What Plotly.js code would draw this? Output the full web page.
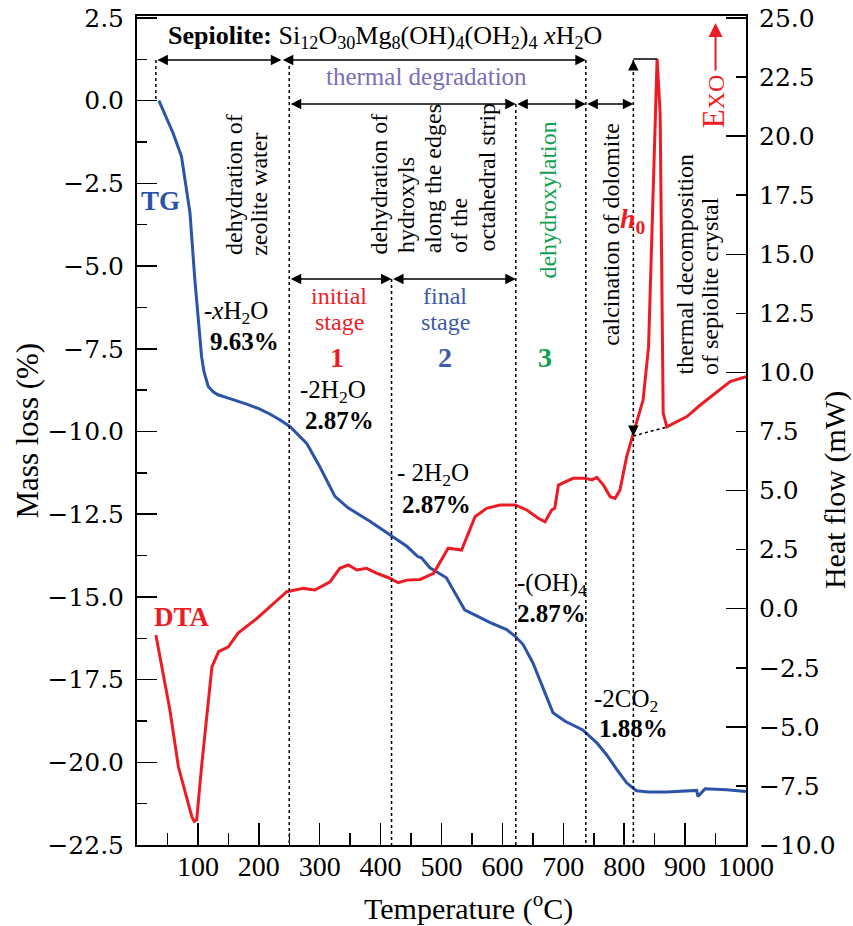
<!DOCTYPE html>
<html><head><meta charset="utf-8">
<script src="https://cdn.plot.ly/plotly-3.0.1.min.js"></script>
<style>html,body{margin:0;padding:0;background:#fff}</style>
</head><body><div id="chart" style="width:853px;height:926px"></div>
<script>
// ---- data ----
const tgTemp = [36,59,73,84,87,95,100,106,110,117,125,133,150,169,180,200,218,235,251,279,300,325,346,383,415,443,461,467,481,508,538,543,580,607,621,634,650,667,683,703,732,755,771,788,804,820,840,870,919,921,933,968,1000];
const tgMass = [0,-0.97,-1.68,-3.00,-3.39,-5.42,-6.41,-7.73,-8.19,-8.64,-8.80,-8.89,-8.99,-9.09,-9.17,-9.31,-9.47,-9.65,-9.85,-10.37,-11.06,-11.96,-12.30,-12.72,-13.12,-13.47,-13.78,-13.82,-14.12,-14.42,-15.39,-15.44,-15.78,-15.99,-16.19,-16.44,-16.99,-17.74,-18.50,-18.76,-19.02,-19.41,-19.77,-20.22,-20.62,-20.86,-20.90,-20.90,-20.85,-21.03,-20.80,-20.83,-20.88];
const dtaTemp = [31,41,54,68,79,90,94,98,106,117,123,134,150,166,197,218,246,273,292,317,333,347,361,377,394,415,429,443,465,487,511,533,555,574,596,621,640,659,670,681,686,692,716,736,747,755,766,777,785,793,804,815,831,840,845,851,854,859,862,864,870,903,925,952,974,1000];
const dtaHeat = [-1.11,-2.46,-4.29,-6.69,-7.80,-8.80,-9.00,-8.94,-6.69,-3.86,-2.46,-1.82,-1.61,-1.03,-0.41,0.08,0.72,0.86,0.79,1.14,1.71,1.85,1.64,1.71,1.50,1.29,1.10,1.21,1.24,1.50,2.56,2.48,3.89,4.25,4.39,4.39,4.18,3.83,3.68,4.18,4.25,5.23,5.52,5.52,5.45,5.56,5.23,4.74,4.67,5.02,6.43,7.42,8.83,11.09,15.32,20.96,23.27,20.98,12.51,8.28,7.70,8.13,8.62,9.18,9.61,9.82];
const xTickVals = [100,200,300,400,500,600,700,800,900,1000];
const xMinorVals = [50,150,250,350,450,550,650,750,850,950];
const leftTickVals = [-22.5,-20,-17.5,-15,-12.5,-10,-7.5,-5,-2.5,0,2.5];
const leftMinorVals = [-21.25,-18.75,-16.25,-13.75,-11.25,-8.75,-6.25,-3.75,-1.25,1.25];
const rightTickVals = [-10,-7.5,-5,-2.5,0,2.5,5,7.5,10,12.5,15,17.5,20,22.5,25];
const rightLongVals = [-10,-5,0,5,10,15,20,25];
// stage boundaries (°C): TG start, 250, 418, 622, 737, 815 (h0)
const boundaries = [31,250,418,622,737,815];

const BLUE='#2b53a7', RED='#ed1c24', PURPLE='#7a6eb8', GREEN='#10a050', BLUE2='#3c5aa8';
const FONT='Liberation Serif, Times New Roman, serif';
const YFONT='DejaVu Serif, Liberation Serif, serif';

const traces = [
  {x:tgTemp, y:tgMass, type:'scatter', mode:'lines', name:'TG', line:{color:BLUE,width:3}, yaxis:'y', hoverinfo:'x+y'},
  {x:dtaTemp, y:dtaHeat, type:'scatter', mode:'lines', name:'DTA', line:{color:RED,width:3}, yaxis:'y2', hoverinfo:'x+y'}
];

const row1 = 1.23, row2 = -0.10, row3 = -5.39, yBottom = -22.5;
const ann = [];
function arrow2(x0,x1,y){
  ann.push({x:x1,y:y,ax:x0,ay:y,xref:'x',yref:'y',axref:'x',ayref:'y',text:'',showarrow:true,
    arrowhead:2,startarrowhead:2,arrowside:'end+start',arrowsize:1.4,startarrowsize:1.4,arrowwidth:1.5,
    arrowcolor:'black',standoff:0,startstandoff:0});
}
function head(x,y,ay,color,w){
  ann.push({x:x,y:y,ax:x,ay:ay,xref:'x',yref:'y',axref:'x',ayref:'y',text:'',showarrow:true,
    arrowhead:2,arrowsize:1.4,arrowwidth:w||1.5,arrowcolor:color||'black',standoff:0});
}
function txt(t,x,y,o){
  o=o||{};
  ann.push({x:x,y:y,xref:'x',yref:'y',text:t,showarrow:false,xanchor:'center',yanchor:'middle',
    font:{family:FONT,size:o.size||25,color:o.color||'black'}});
}
function vtxt(t,x,yb,o){
  o=o||{};
  ann.push({x:x,y:yb,xref:'x',yref:'y',text:t,showarrow:false,textangle:-90,xanchor:'center',yanchor:'bottom',
    font:{family:FONT,size:o.size||24,color:o.color||'black'}});
}

// arrows
arrow2(boundaries[0],237,row1);
arrow2(237,boundaries[4],row1);
arrow2(boundaries[1],boundaries[3],row2);
arrow2(boundaries[3],boundaries[4],row2);
arrow2(boundaries[4],boundaries[5],row2);
arrow2(boundaries[1],boundaries[2],row3);
arrow2(boundaries[2],boundaries[3],row3);
// h0 arrow heads
head(boundaries[5],row1,row1-0.25);
head(boundaries[5],-10.14,-9.89);
// Exo arrow
head(950,2.35,0.87,RED,2);

// texts
txt('<b>Sepiolite:</b> Si<sub>12</sub>O<sub>30</sub>Mg<sub>8</sub>(OH)<sub>4</sub>(OH<sub>2</sub>)<sub>4</sub> <i>x</i>H<sub>2</sub>O',407,1.93,{size:26});
txt('thermal degradation',475,0.72,{color:PURPLE});
txt('<b>TG</b>',39,-3.03,{size:27,color:BLUE});
txt('<b>DTA</b>',74,-15.61,{size:27,color:RED});
txt('-<i>x</i>H<sub>2</sub>O',163,-6.39);
txt('<b>9.63%</b>',176,-7.29);
txt('initial',332,-5.90,{size:24,color:RED});
txt('stage',332,-6.69,{size:24,color:RED});
txt('<b>1</b>',328,-7.75,{size:28,color:RED});
txt('-2H<sub>2</sub>O',322,-8.78);
txt('<b>2.87%</b>',333,-9.68);
txt('final',506,-5.90,{size:24,color:BLUE2});
txt('stage',507,-6.69,{size:24,color:BLUE2});
txt('<b>2</b>',506,-7.75,{size:28,color:BLUE2});
txt('<b>3</b>',670,-7.75,{size:28,color:GREEN});
txt('- 2H<sub>2</sub>O',486,-11.29);
txt('<b>2.87%</b>',491,-12.22);
txt('-(OH)<sub>4</sub>',681,-14.64);
txt('<b>2.87%</b>',681,-15.49);
txt('-2CO<sub>2</sub>',803,-18.12);
txt('<b>1.88%</b>',816,-18.97);
txt('<b><i>h</i><sub>0</sub></b>',814,-3.61,{size:28,color:RED});

vtxt('dehydration of',158,-4.73);
vtxt('zeolite water',199,-4.76);
vtxt('dehydration of',397,-4.70);
vtxt('hydroxyls',442,-4.66);
vtxt('along the edges',486,-4.66);
vtxt('of the',530,-4.66);
vtxt('octahedral strip',575,-4.63);
vtxt('dehydroxylation',675,-5.45,{color:GREEN});
vtxt('calcination of dolomite',777,-7.48);
vtxt('thermal decomposition',900,-8.35);
vtxt('of sepiolite crystal',941,-8.35);
vtxt('E<span style="font-size:24px">XO</span>',946,-0.89,{size:31,color:RED});

// axis titles
ann.push({xref:'paper',yref:'paper',x:0.545,y:-0.0736,text:'Temperature (<sup>o</sup>C)',showarrow:false,xanchor:'center',yanchor:'middle',font:{family:FONT,size:30,color:'black'}});
ann.push({xref:'paper',yref:'paper',x:-0.179,y:0.50,text:'Mass loss (%)',showarrow:false,textangle:-90,xanchor:'center',yanchor:'middle',font:{family:FONT,size:31,color:'black'}});
ann.push({xref:'paper',yref:'paper',x:1.146,y:0.428,text:'Heat flow (mW)',showarrow:false,textangle:-90,xanchor:'center',yanchor:'middle',font:{family:FONT,size:30,color:'black'}});

// shapes
const dot = {color:'black',width:1.5,dash:'3px,3px'};
const shapes = [
  {type:'line',xref:'x',yref:'y',x0:boundaries[0],x1:boundaries[0],y0:row1,y1:0,line:dot},
  {type:'line',xref:'x',yref:'y',x0:boundaries[1],x1:boundaries[1],y0:row1,y1:yBottom,line:dot},
  {type:'line',xref:'x',yref:'y',x0:boundaries[2],x1:boundaries[2],y0:row3,y1:yBottom,line:dot},
  {type:'line',xref:'x',yref:'y',x0:boundaries[3],x1:boundaries[3],y0:row2,y1:yBottom,line:dot},
  {type:'line',xref:'x',yref:'y',x0:boundaries[4],x1:boundaries[4],y0:row1,y1:yBottom,line:dot},
  {type:'line',xref:'x',yref:'y',x0:boundaries[5],x1:boundaries[5],y0:row1,y1:yBottom,line:dot},
  {type:'line',xref:'x',yref:'y',x0:boundaries[5],x1:854,y0:1.26,y1:1.26,line:{color:'black',width:1.5}},
  {type:'line',xref:'x',yref:'y2',x0:boundaries[5],x1:870,y0:7.31,y1:7.69,line:dot}
];

const xtickfont = {family:FONT,size:28,color:'black'};
const ytickfont = {family:YFONT,size:25,color:'black'};
const layout = {
  width:853,height:926,
  margin:{l:137,r:107,t:16,b:81},
  paper_bgcolor:'white',plot_bgcolor:'white',
  showlegend:false,
  font:{family:FONT,color:'black'},
  xaxis:{range:[0,1000],tickmode:'array',tickvals:xTickVals,ticks:'inside',ticklen:22,tickwidth:1.5,tickcolor:'black',
    showline:true,linewidth:2,linecolor:'black',mirror:true,showgrid:false,zeroline:false,tickfont:xtickfont,ticklabelstandoff:-5,
    minor:{tickmode:'array',tickvals:xMinorVals,ticks:'inside',ticklen:12,tickwidth:1.5,tickcolor:'black',showgrid:false}},
  yaxis:{range:[-22.5,2.56],tickmode:'array',tickvals:leftTickVals,tickformat:'.1f',ticks:'inside',ticklen:20,tickwidth:1.5,tickcolor:'black',
    showline:true,linewidth:2,linecolor:'black',showgrid:false,zeroline:false,tickfont:ytickfont,ticklabelstandoff:6,
    minor:{tickmode:'array',tickvals:leftMinorVals,ticks:'inside',ticklen:10,tickwidth:1.5,tickcolor:'black',showgrid:false}},
  yaxis2:{range:[-10,25.084],overlaying:'y',side:'right',tickmode:'array',tickvals:rightTickVals,tickformat:'.1f',ticks:'inside',ticklen:10,tickwidth:1.5,tickcolor:'black',
    showline:true,linewidth:2,linecolor:'black',showgrid:false,zeroline:false,tickfont:ytickfont,ticklabelstandoff:6},
  yaxis3:{range:[-10,25.084],overlaying:'y',side:'right',tickmode:'array',tickvals:rightLongVals,ticks:'inside',ticklen:20,tickwidth:1.5,tickcolor:'black',
    showticklabels:false,showline:false,showgrid:false,zeroline:false},
  annotations:ann,
  shapes:shapes
};
traces.push({x:[0],y:[0],yaxis:'y3',type:'scatter',mode:'markers',marker:{opacity:0},hoverinfo:'skip',showlegend:false});
Plotly.newPlot('chart',traces,layout,{displayModeBar:false,staticPlot:true});
</script></body></html>
